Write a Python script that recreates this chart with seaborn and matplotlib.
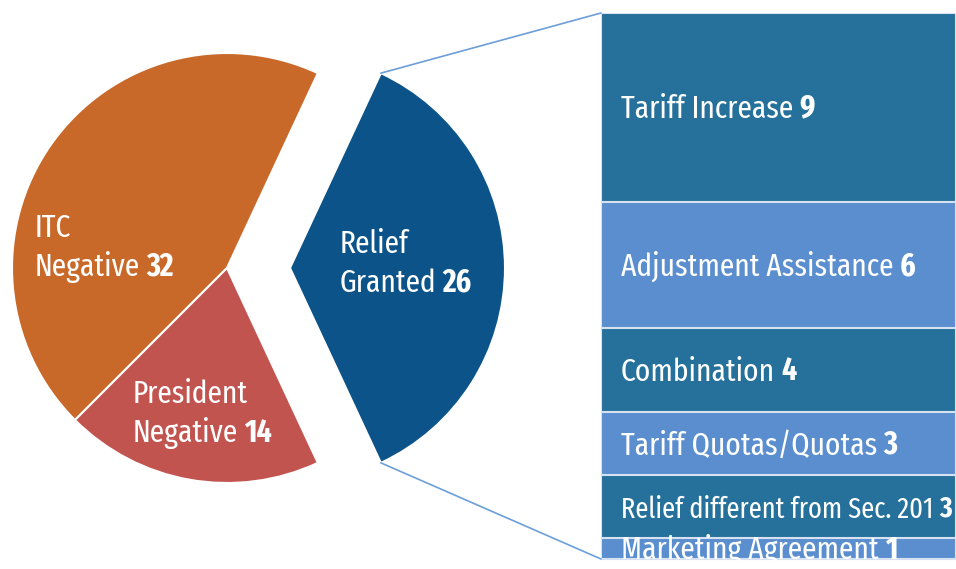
import matplotlib
matplotlib.use('Agg')
import numpy as np
import pandas as pd
import matplotlib.pyplot as plt
from matplotlib import font_manager as fm
from matplotlib.font_manager import FontProperties
from matplotlib.textpath import TextPath
from matplotlib.patches import ConnectionPatch
import seaborn as sns

# outcome of the investigations (pie)
pie_names = ['Relief\nGranted', 'ITC\nNegative', 'President\nNegative']
pie_values = [26, 32, 14]
pie_colors = ['#0b5388', '#c8692a', '#c25450']

# how the relief was granted (stacked bar)
relief_types = ['Tariff Increase', 'Adjustment Assistance', 'Combination',
                'Tariff Quotas/Quotas', 'Relief different from Sec. 201',
                'Marketing Agreement']
relief_counts = [9, 6, 4, 3, 3, 1]
relief_colors = ['#26719b', '#5a8ece', '#26719b', '#5a8ece', '#26719b', '#5a8ece']

W, H = 956, 569

# pick a narrow sans face if there is one, and size it for ~22px capitals
avail = {f.name for f in fm.fontManager.ttflist}
FONT = next((f for f in ['Fira Sans Extra Condensed', 'PT Sans Narrow', 'Cabin Condensed',
                         'Asap Condensed', 'Liberation Sans'] if f in avail), 'DejaVu Sans')
cap = TextPath((0, 0), 'H', size=100, prop=FontProperties(family=FONT)).get_extents().height / 100
FS = 22 / cap * 0.72

sns.set_theme(style='white')
plt.rcParams['font.family'] = [FONT, 'DejaVu Sans']

fig = plt.figure(figsize=(W / 100, H / 100), dpi=100)
ax = fig.add_axes([0, 0, 1, 1])

wedges, _ = ax.pie(pie_values, colors=pie_colors, startangle=-65, counterclock=True,
                   center=(227, 301), radius=215, explode=[63, 0, 0],
                   wedgeprops=dict(edgecolor='white', linewidth=1.5))
ax.set_xlim(0, W)
ax.set_ylim(0, H)
ax.set_aspect('auto')
ax.axis('off')


def pie_label(x, y, name, num, gap=39):
    # x = left edge, y = baseline of first line (pixels from bottom)
    t = None
    for i, line in enumerate(name.split('\n')):
        t = ax.text(x, y - i * gap, line, color='white', fontsize=FS,
                    ha='left', va='baseline')
    ax.annotate(str(num), xy=(1, 0), xycoords=t, xytext=(6, 0),
                textcoords='offset pixels', color='white', fontsize=FS,
                fontweight='bold', ha='left', va='bottom')


label_pos = [(340, H - 253), (35, H - 237), (133, H - 403)]
for (x, y), name, num in zip(label_pos, pie_names, pie_values):
    pie_label(x, y, name, num)

# stacked bar on the right
px_per_unit = 21
ax2 = fig.add_axes([601 / W, 0, 1 - 601 / W, (H - 13) / H])
df = pd.DataFrame({'type': relief_types, 'count': relief_counts, 'color': relief_colors})
df['end'] = df['count'].cumsum()
df['mid'] = df['end'] - df['count'] / 2
for _, row in df.iloc[::-1].iterrows():
    sns.barplot(x=[0], y=[row['end']], color=row['color'], width=1, saturation=1,
                edgecolor='#d6e2f2', linewidth=1.5, ax=ax2)
ax2.set_xlim(-0.5, 0.5)
ax2.set_ylim((H - 13) / px_per_unit, 0)
ax2.axis('off')

bar_texts = []
for _, row in df.iterrows():
    t = ax2.annotate(row['type'], xy=(-0.5, row['mid']), xytext=(20, -11),
                     textcoords='offset pixels', color='white', fontsize=FS,
                     ha='left', va='baseline', annotation_clip=False)
    n = ax2.annotate(str(row['count']), xy=(1, 0), xycoords=t, xytext=(6, 0),
                     textcoords='offset pixels', color='white', fontsize=FS,
                     fontweight='bold', ha='left', va='bottom')
    bar_texts.append((t, n))

# squeeze a label that would run past the right edge
fig.canvas.draw()
r = fig.canvas.get_renderer()
for t, n in bar_texts:
    x0 = t.get_window_extent(r).x0
    x1 = n.get_window_extent(r).x1
    if x1 > W - 5:
        k = (W - 5 - x0) / (x1 - x0)
        t.set_fontsize(FS * k)
        n.set_fontsize(FS * k)

# connector lines from the relief slice to the bar
w = wedges[0]
total = sum(relief_counts)
for ang, yb in [(w.theta2, 0), (w.theta1, total)]:
    xa = w.center[0] + w.r * np.cos(np.radians(ang))
    ya = w.center[1] + w.r * np.sin(np.radians(ang))
    con = ConnectionPatch(xyA=(xa, ya), coordsA=ax.transData, xyB=(-0.5, yb),
                          coordsB=ax2.transData, color='#6c9fd9', lw=1.2)
    fig.add_artist(con)

fig.savefig('out.png', dpi=100)
